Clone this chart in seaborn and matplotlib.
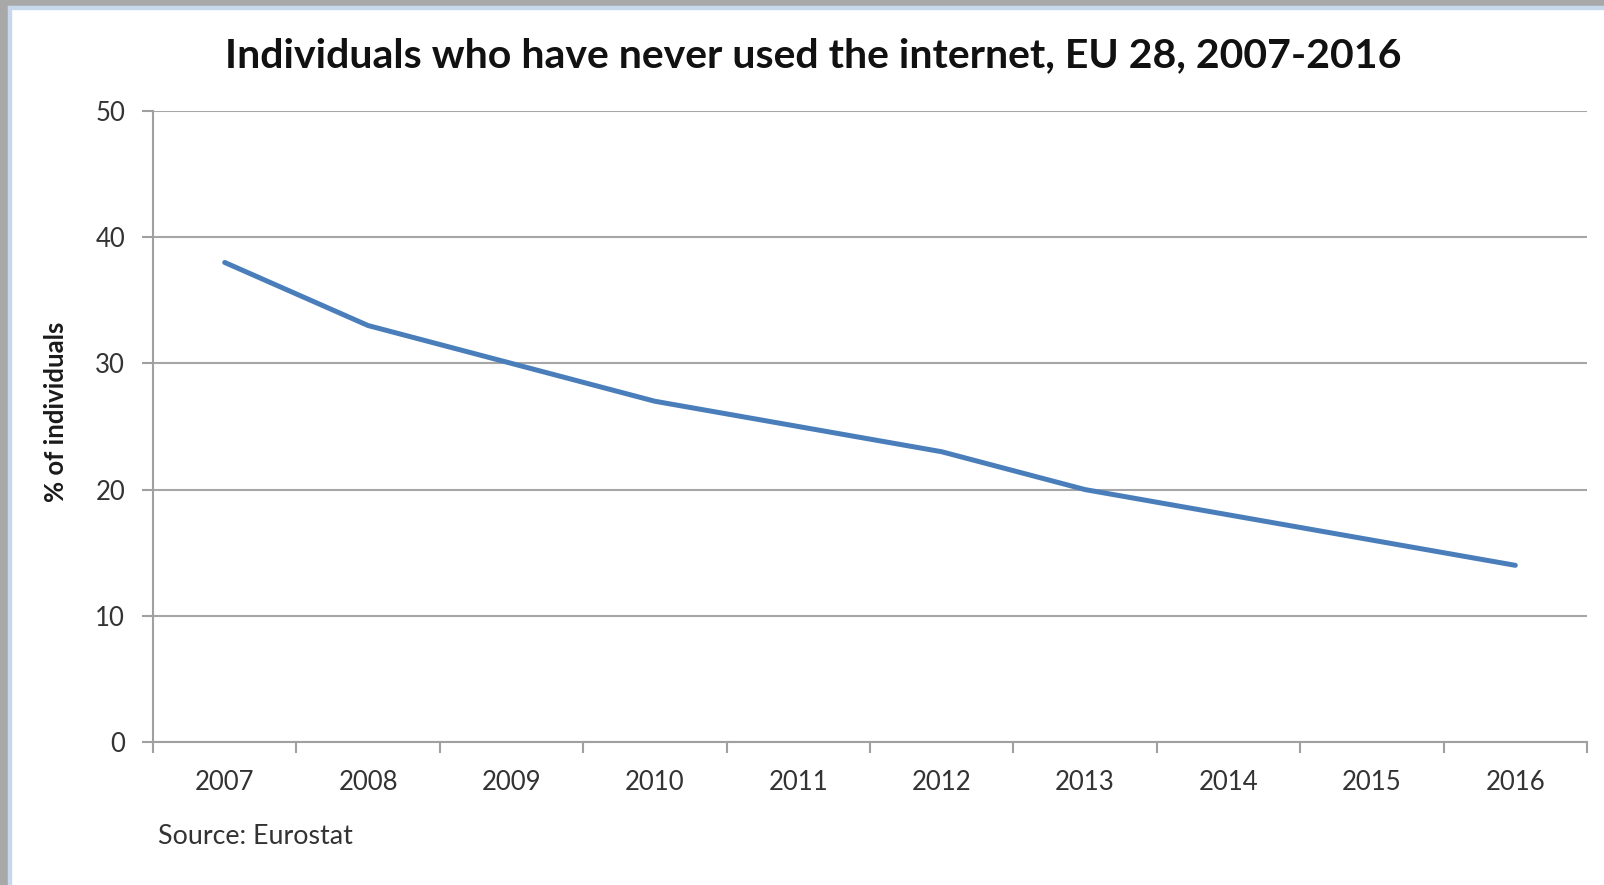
import matplotlib
matplotlib.use("Agg")
import matplotlib.pyplot as plt
import seaborn as sns
import pandas as pd
from matplotlib.patches import Rectangle

years = ["2007", "2008", "2009", "2010", "2011", "2012", "2013", "2014", "2015", "2016"]
never_used = [38, 33, 30, 27, 25, 23, 20, 18, 16, 14]
y_ticks = [0, 10, 20, 30, 40, 50]

title = "Individuals who have never used the internet, EU 28, 2007-2016"
y_label = "% of individuals"
source = "Source: Eurostat"

df = pd.DataFrame({"year": years, "share": never_used})

sns.set_style("white")
plt.rcParams["font.family"] = ["Lato", "DejaVu Sans"]

fig = plt.figure(figsize=(16.04, 8.85), dpi=100)
ax = fig.add_axes([153 / 1604, 1 - 742 / 885, (1587 - 153) / 1604, (742 - 111) / 885])

sns.lineplot(data=df, x="year", y="share", ax=ax, color="#4A7EBB", linewidth=3.6, sort=False)

ax.set_xlim(-0.5, len(years) - 0.5)
ax.set_ylim(0, 50)
ax.set_yticks(y_ticks)
ax.set_yticklabels([str(v) for v in y_ticks], fontsize=18.5, color="#333333")
ax.set_xticks(range(len(years)))
ax.set_xticklabels(years, fontsize=18.5, color="#333333")
ax.set_xticks([i - 0.5 for i in range(len(years) + 1)], minor=True)
ax.tick_params(axis="x", which="major", length=0, pad=20)
ax.tick_params(axis="x", which="minor", length=8, width=1.5, color="#A0A0A0", direction="out", bottom=True)
ax.tick_params(axis="y", which="major", length=8, width=1.5, color="#A0A0A0", direction="out", left=True, pad=12)

ax.grid(axis="y", color="#A6A6A6", linewidth=1.5)
ax.set_axisbelow(True)
for side in ["top", "right"]:
    ax.spines[side].set_visible(False)
for side in ["left", "bottom"]:
    ax.spines[side].set_color("#A0A0A0")
    ax.spines[side].set_linewidth(1.5)

ax.set_xlabel("")
ax.set_ylabel("")

fig.text(56 / 1604, 1 - 412 / 885, y_label, fontsize=18.5, fontweight="bold", color="#1a1a1a",
         rotation=90, ha="center", va="center")
fig.text(813 / 1604, 1 - 56 / 885, title, fontsize=29.5, fontweight="bold", color="#111111",
         ha="center", va="center")
fig.text(158 / 1604, 1 - 837 / 885, source, fontsize=19.3, color="#333333", ha="left", va="center")

# screenshot frame
fig.patches.append(Rectangle((0, 1 - 6 / 885), 1, 6 / 885, transform=fig.transFigure, color="#A8A8A8", zorder=0))
fig.patches.append(Rectangle((0, 0), 8 / 1604, 1, transform=fig.transFigure, color="#A8A8A8", zorder=0))
fig.patches.append(Rectangle((8 / 1604, 0), 3 / 1604, 1 - 6 / 885, transform=fig.transFigure, color="#C8D8EC", zorder=0))
fig.patches.append(Rectangle((8 / 1604, 1 - 9 / 885), 1, 3 / 885, transform=fig.transFigure, color="#C8D8EC", zorder=0))

fig.savefig("out.png", dpi=100)
